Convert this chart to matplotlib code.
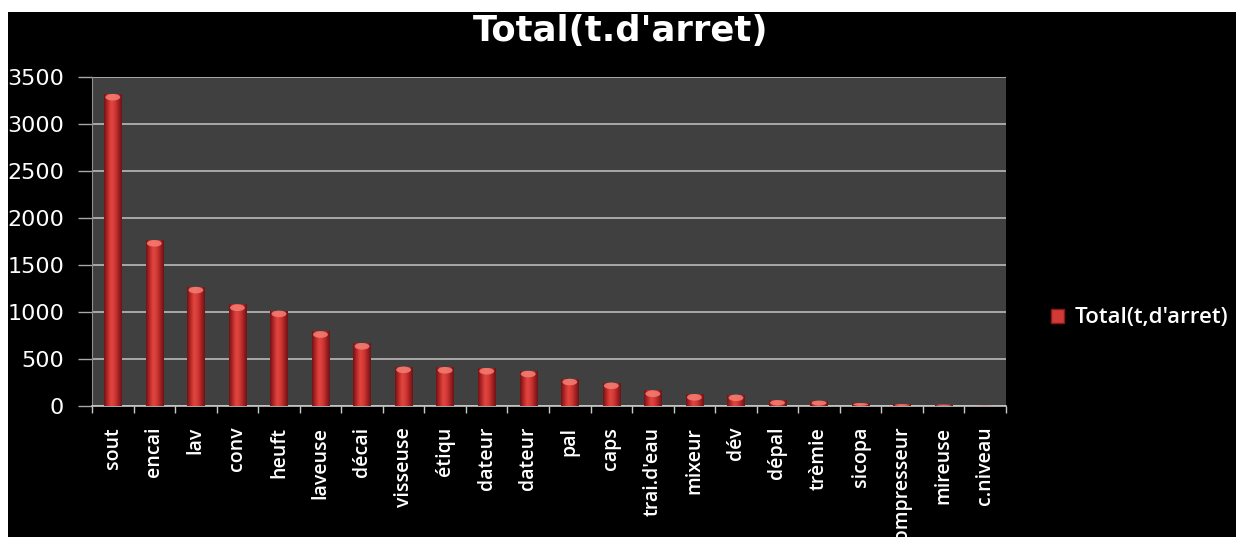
import matplotlib
matplotlib.use("Agg")
import matplotlib.pyplot as plt
import numpy as np
from matplotlib.colors import LinearSegmentedColormap
from matplotlib.patches import Rectangle, Ellipse

# machines and downtime totals
machines = ["sout", "encai", "lav", "conv", "heuft", "laveuse", "décai",
            "visseuse", "étiqu", "dateur", "dateur", "pal", "caps",
            "trai.d'eau", "mixeur", "dév", "dépal", "trèmie", "sicopa",
            "compresseur", "mireuse", "c.niveau"]
arret = [3320, 1765, 1268, 1080, 1015, 795, 670, 420, 415, 405, 375, 290,
         250, 165, 127, 122, 62, 58, 30, 18, 15, 5]
yticks = [0, 500, 1000, 1500, 2000, 2500, 3000, 3500]

W, H = 1236, 537
fig = plt.figure(figsize=(W / 100, H / 100), dpi=100, facecolor="white")
# black panel, white strip on top and left
fig.patches.append(Rectangle((8 / W, 0), 1 - 8 / W, 1 - 12 / H,
                             transform=fig.transFigure, facecolor="black",
                             edgecolor="none", zorder=-10))

ax = fig.add_axes([92 / W, 1 - 406 / H, (1006 - 92) / W, (406 - 77) / H])
ax.set_zorder(2)
ax.set_facecolor("#404040")

x = np.arange(len(machines))
bw = 0.42
bars = ax.bar(x, arret, width=bw, color="#c8302c", edgecolor="none",
              zorder=3, label="Total(t,d'arret)")

cmap = LinearSegmentedColormap.from_list(
    "cyl", ["#6e1212", "#b8282a", "#e2463f", "#d23a35", "#a82224", "#6a1414"])
grad = np.linspace(0, 1, 64).reshape(1, -1)
for b, v in zip(bars, arret):
    x0 = b.get_x()
    im = ax.imshow(grad, cmap=cmap, aspect="auto", zorder=3,
                   extent=(x0, x0 + bw, 0, v), interpolation="bicubic")
    im.set_clip_path(b)
    # lighter cap on top of the cylinder
    cap_h = min(70, v * 0.9)
    ax.add_patch(Ellipse((x0 + bw / 2, v - cap_h / 2), bw * 0.85, cap_h,
                         facecolor="#f27a70", edgecolor="none", zorder=4,
                         alpha=0.9))
    b.set_facecolor("none")

ax.set_xlim(-0.5, len(machines) - 0.5)
ax.set_ylim(0, 3500)
ax.set_yticks(yticks)
ax.yaxis.grid(True, color="#a8a8a8", linewidth=1.4, zorder=1)
ax.set_axisbelow(True)

ax.set_xticks(x)
ax.set_xticklabels(machines, rotation=90, color="white", fontsize=14,
                   family="Open Sans", fontweight="semibold")
ax.set_xticks(np.arange(len(machines) + 1) - 0.5, minor=True)
ax.tick_params(axis="x", which="major", length=0, pad=15)
ax.tick_params(axis="x", which="minor", length=5, color="#c8c8c8", width=1)
ax.tick_params(axis="y", length=10, color="#a8a8a8", width=1, pad=10,
               labelcolor="white", labelsize=16)
for s in ["top", "right"]:
    ax.spines[s].set_visible(False)
ax.spines["left"].set_color("#909090")
ax.spines["bottom"].set_color("#c8c8c8")
ax.spines["bottom"].set_linewidth(1.2)

fig.text(0.502, 1 - 31 / H, "Total(t.d'arret)", ha="center", va="center",
         color="white", fontsize=25.5, fontweight="bold", family="DejaVu Sans")

leg = fig.legend(handles=[Rectangle((0, 0), 1, 1, facecolor="#d23a35",
                                    edgecolor="#8a1a1a")],
                 labels=["Total(t,d'arret)"], loc="center left",
                 bbox_to_anchor=(1040 / W, 1 - 318 / H), frameon=False,
                 borderpad=0, handlelength=0.6, handleheight=0.6,
                 handletextpad=0.45,
                 prop={"family": "Open Sans", "size": 16, "weight": "semibold"})
for t in leg.get_texts():
    t.set_color("white")

fig.savefig("out.png", dpi=100, facecolor=fig.get_facecolor())
